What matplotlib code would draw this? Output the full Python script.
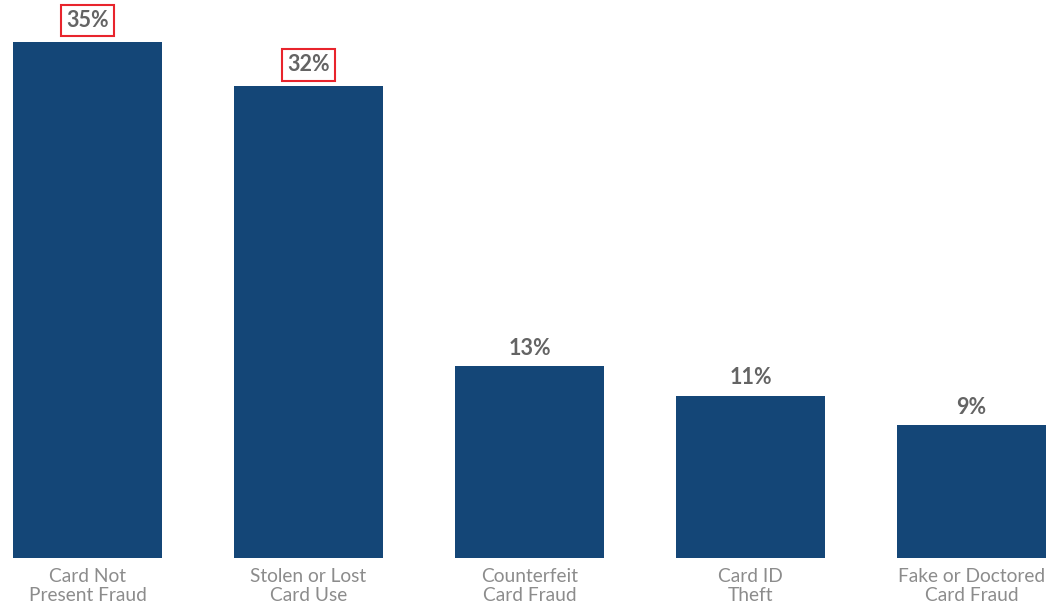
import numpy as np
import matplotlib.pyplot as plt

categories = ["Card Not\nPresent Fraud", "Stolen or Lost\nCard Use", "Counterfeit\nCard Fraud",
              "Card ID\nTheft", "Fake or Doctored\nCard Fraud"]
shares = [35, 32, 13, 11, 9]
highlighted = [True, True, False, False, False]

bar_color = "#144677"
plt.rcParams["font.family"] = ["Lato", "DejaVu Sans"]

fig = plt.figure(figsize=(10.51, 6.07), dpi=100)
ax = fig.add_axes([0, 1 - 558 / 607, 1, 558 / 607])

x = np.arange(len(categories))
ax.bar(x, shares, width=0.674, color=bar_color)

for xi, v, hl in zip(x, shares, highlighted):
    if hl:
        ax.annotate(f"{v}%", (xi, v), xytext=(0, 15.5), textcoords="offset points",
                    ha="center", va="center", fontsize=15.5, fontweight="bold", color="#646464",
                    bbox=dict(boxstyle="square,pad=0.25", fc="white", ec="#e8242c", lw=1.5))
    else:
        ax.annotate(f"{v}%", (xi, v), xytext=(0, 13), textcoords="offset points",
                    ha="center", va="center", fontsize=15.5, fontweight="bold", color="#646464")

ax.set_xlim(-87.5 / 221, 4 + (1051 - 971.5) / 221)
ax.set_ylim(0, 558 / (516 / 35))
ax.set_xticks(x)
ax.set_xticklabels(categories, fontsize=13.8, color="#8c8c8c", linespacing=1.15)
ax.tick_params(axis="x", length=0, pad=7)
ax.set_yticks([])
for s in ax.spines.values():
    s.set_visible(False)

fig.savefig("out.png", dpi=100)
